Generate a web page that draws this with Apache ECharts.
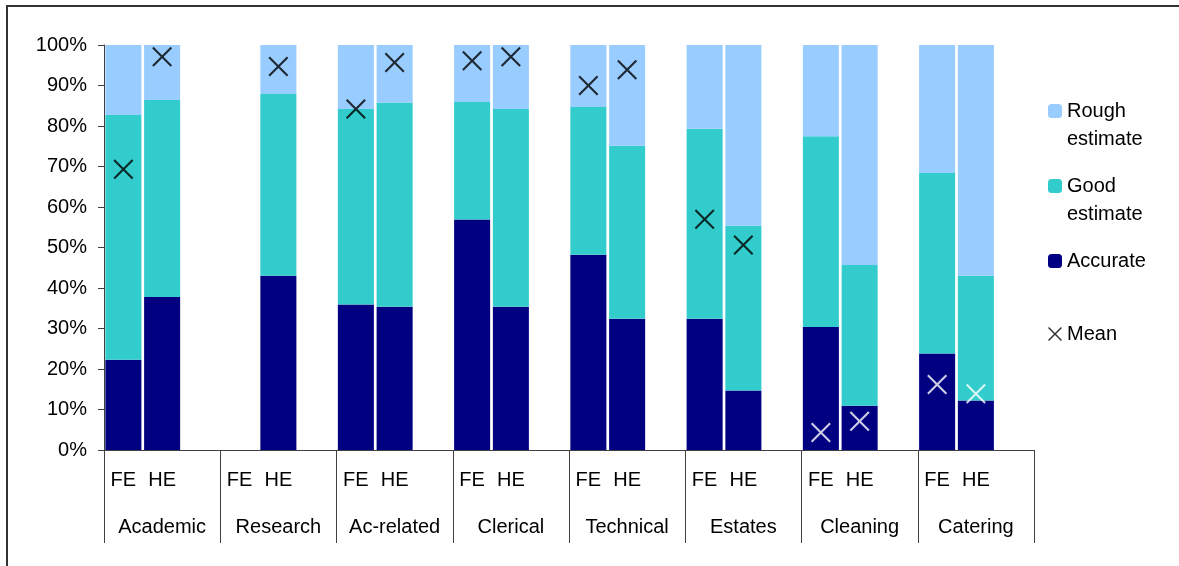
<!DOCTYPE html>
<html>
<head>
<meta charset="utf-8">
<script src="https://cdn.jsdelivr.net/npm/echarts@6/dist/echarts.min.js"></script>
<style>
  html, body { margin: 0; padding: 0; background: #fff; }
  #chart { width: 1179px; height: 566px; }
</style>
</head>
<body>
<div id="chart"></div>
<script>
// staff groups, each with an FE and an HE column
const groups = ['Academic', 'Research', 'Ac-related', 'Clerical', 'Technical', 'Estates', 'Cleaning', 'Catering'];
const sectors = ['FE', 'HE'];

// percentages, FE then HE for each group (null = no data)
const accurate     = [22.3, 37.8,  null, 43.0,  35.9, 35.4,  56.9, 35.4,  48.2, 32.4,  32.4, 14.7,  30.4, 10.9,  23.8, 12.2];
const goodEstimate = [60.4, 48.6,  null, 44.9,  48.3, 50.4,  29.0, 48.8,  36.5, 42.7,  46.9, 40.7,  47.1, 34.8,  44.6, 30.8];
const roughEstimate= [17.3, 13.6,  null, 12.1,  15.8, 14.2,  14.1, 15.8,  15.3, 24.9,  20.7, 44.6,  22.5, 54.3,  31.6, 57.0];
const mean         = [69.3, 97.1,  null, 94.7,  84.2, 95.7,  96.1, 97.1,  90.0, 93.9,  57.0, 50.6,   4.3,  7.1,  16.2, 13.9];

const yTicks = [0, 10, 20, 30, 40, 50, 60, 70, 80, 90, 100];

// each group takes three slots: FE, HE and an empty spacer
const slotLabels = [];
const slotIndex = [];
groups.forEach((g, gi) => {
  sectors.forEach((s, si) => { slotLabels.push(s); slotIndex.push(gi * 2 + si); });
  slotLabels.push('');
  slotIndex.push(-1);
});
const toSlots = arr => slotIndex.map(i => (i < 0 || arr[i] == null) ? '-' : arr[i]);

const font = 'Liberation Sans, Arial, sans-serif';
const fontSize = 20;
const axisColor = '#404040';
const xMark = 'path://M0,1.5 L1.5,0 L10,8.5 L18.5,0 L20,1.5 L11.5,10 L20,18.5 L18.5,20 L10,11.5 L1.5,20 L0,18.5 L8.5,10 Z';

const chart = echarts.init(document.getElementById('chart'));

const legendBase = {
  orient: 'vertical',
  left: 1048,
  padding: 0,
  itemWidth: 14,
  itemHeight: 14,
  textStyle: { fontFamily: font, fontSize: fontSize, color: '#000', lineHeight: 28 }
};

chart.setOption({
  animation: false,
  textStyle: { fontFamily: font },
  grid: { left: 104, right: 145, top: 45, bottom: 116 },
  graphic: [{
    type: 'rect',
    shape: { x: 7, y: 6, width: 1300, height: 700 },
    style: { fill: 'none', stroke: '#333', lineWidth: 2 },
    silent: true
  }],
  legend: [
    { ...legendBase, top: 69, data: ['Rough estimate'], formatter: n => '\n' + n.replace(' ', '\n') },
    { ...legendBase, top: 144, data: ['Good estimate'], formatter: n => '\n' + n.replace(' ', '\n') },
    { ...legendBase, top: 247, data: ['Accurate'] },
    { ...legendBase, top: 320, data: ['Mean'] }
  ],
  xAxis: [
    {
      type: 'category',
      data: slotLabels,
      axisLine: { lineStyle: { color: axisColor, width: 1 } },
      axisTick: { show: false },
      axisLabel: { interval: 0, margin: 20, fontSize: fontSize, color: '#000', fontFamily: font }
    },
    {
      type: 'category',
      position: 'bottom',
      data: groups,
      axisLine: { show: false },
      axisTick: { show: true, interval: 0, length: 93, lineStyle: { color: axisColor } },
      axisLabel: { interval: 0, margin: 67, fontSize: fontSize, color: '#000', fontFamily: font }
    }
  ],
  yAxis: {
    type: 'value',
    min: yTicks[0],
    max: yTicks[yTicks.length - 1],
    interval: 10,
    splitLine: { show: false },
    axisLine: { show: true, lineStyle: { color: axisColor } },
    axisTick: { show: true, length: 6, lineStyle: { color: axisColor } },
    axisLabel: { formatter: '{value}%', margin: 17, fontSize: fontSize, color: '#000', fontFamily: font }
  },
  series: [
    {
      name: 'Accurate', type: 'bar', stack: 'total', barWidth: '93%',
      itemStyle: { color: '#000080' }, data: toSlots(accurate)
    },
    {
      name: 'Good estimate', type: 'bar', stack: 'total', barWidth: '93%',
      itemStyle: { color: '#33CCCC' }, data: toSlots(goodEstimate)
    },
    {
      name: 'Rough estimate', type: 'bar', stack: 'total', barWidth: '93%',
      itemStyle: { color: '#99CCFF' }, data: toSlots(roughEstimate)
    },
    {
      name: 'Mean', type: 'scatter', symbol: xMark, symbolSize: 20, z: 5,
      itemStyle: { color: '#000' },
      data: toSlots(mean).map(v => v === '-' ? v : (v < 20 ? { value: v, itemStyle: { color: '#fff' } } : v))
    }
  ]
});
</script>
</body>
</html>
